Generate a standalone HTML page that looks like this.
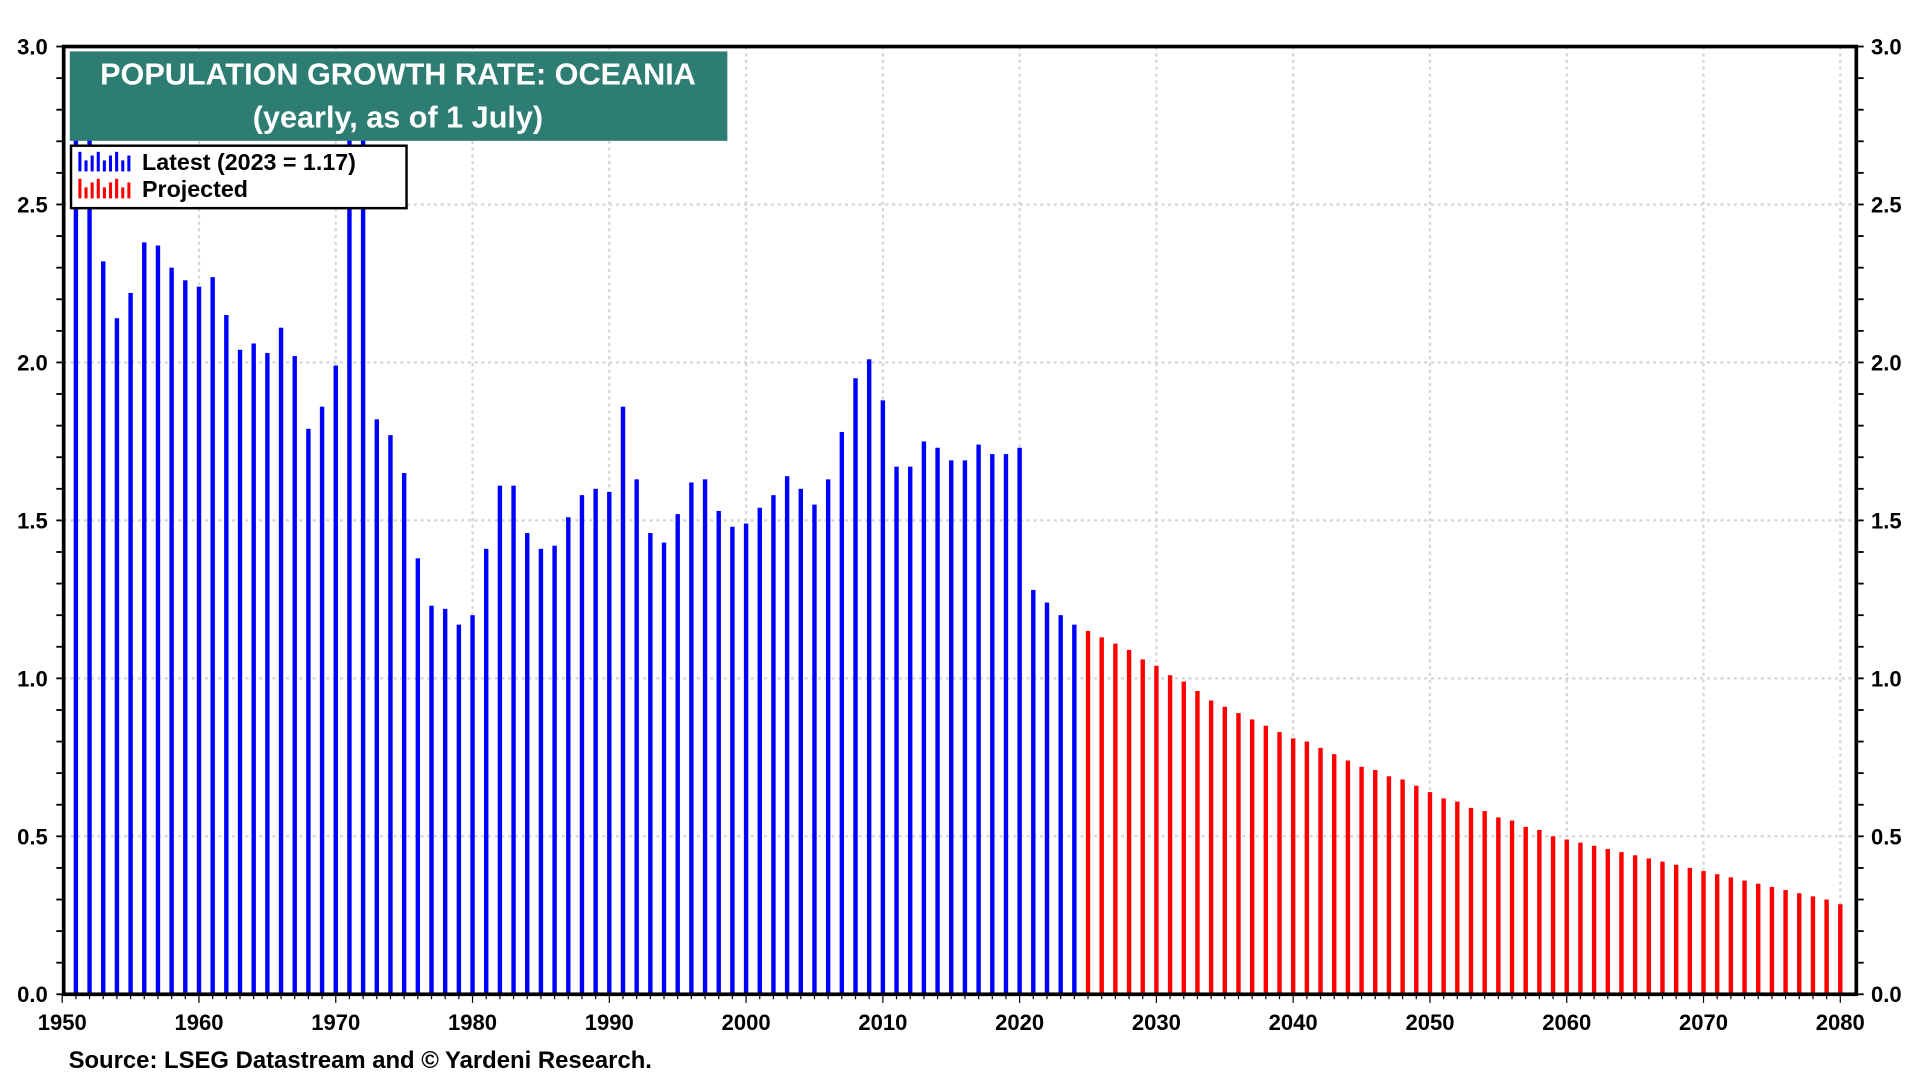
<!DOCTYPE html>
<html><head><meta charset="utf-8"><style>
html,body{margin:0;padding:0;background:#fff;}
svg{display:block;font-family:"Liberation Sans",Arial,sans-serif;}
</style></head><body>
<svg id="chart" width="1920" height="1080" viewBox="0 0 1568 882">
<g id="grid"></g>
<g id="bars"></g>
<g id="axes"></g>
<rect x="57" y="42" width="537" height="73" fill="#2e7d72"/>
<text x="325" y="69" text-anchor="middle" fill="#fff" font-weight="bold" font-size="25">POPULATION GROWTH RATE: OCEANIA</text>
<text x="325" y="104" text-anchor="middle" fill="#fff" font-weight="bold" font-size="25">(yearly, as of 1 July)</text>
<g>
<rect x="58" y="119" width="274" height="51" fill="#fff" stroke="#000" stroke-width="2"/>
<g>
<g fill="#0000ff"><rect x="64" y="124" width="2.5" height="16"/><rect x="69" y="131" width="2.5" height="9"/><rect x="74" y="127" width="2.5" height="13"/><rect x="79" y="124" width="2.5" height="16"/><rect x="84" y="131" width="2.5" height="9"/><rect x="89" y="127" width="2.5" height="13"/><rect x="94" y="124" width="2.5" height="16"/><rect x="99" y="131" width="2.5" height="9"/><rect x="104" y="127" width="2.5" height="13"/></g>
<text x="116" y="139" font-size="19" font-weight="bold">Latest (2023 = 1.17)</text></g>
<g>
<g fill="#ff0000"><rect x="64" y="146" width="2.5" height="16"/><rect x="69" y="153" width="2.5" height="9"/><rect x="74" y="149" width="2.5" height="13"/><rect x="79" y="146" width="2.5" height="16"/><rect x="84" y="153" width="2.5" height="9"/><rect x="89" y="149" width="2.5" height="13"/><rect x="94" y="146" width="2.5" height="16"/><rect x="99" y="153" width="2.5" height="9"/><rect x="104" y="149" width="2.5" height="13"/></g>
<text x="116" y="161" font-size="19" font-weight="bold">Projected</text></g>
</g>
<text x="56" y="872" font-size="19.5" font-weight="bold">Source: LSEG Datastream and © Yardeni Research.</text>
</svg>
<script>
const actualYears = [];
for (let y = 1951; y <= 2024; y++) actualYears.push(y);
const actualValues = [2.85,2.8,2.32,2.14,2.22,2.38,2.37,2.30,2.26,2.24,2.27,2.15,2.04,2.06,2.03,2.11,2.02,1.79,1.86,1.99,2.9,2.9,1.82,1.77,1.65,1.38,1.23,1.22,1.17,1.20,1.41,1.61,1.61,1.46,1.41,1.42,1.51,1.58,1.60,1.59,1.86,1.63,1.46,1.43,1.52,1.62,1.63,1.53,1.48,1.49,1.54,1.58,1.64,1.60,1.55,1.63,1.78,1.95,2.01,1.88,1.67,1.67,1.75,1.73,1.69,1.69,1.74,1.71,1.71,1.73,1.28,1.24,1.20,1.17];
const projYears = [];
for (let y = 2025; y <= 2080; y++) projYears.push(y);
const projValues = [1.15,1.13,1.11,1.09,1.06,1.04,1.01,0.99,0.96,0.93,0.91,0.89,0.87,0.85,0.83,0.81,0.80,0.78,0.76,0.74,0.72,0.71,0.69,0.68,0.66,0.64,0.62,0.61,0.59,0.58,0.56,0.55,0.53,0.52,0.50,0.49,0.48,0.47,0.46,0.45,0.44,0.43,0.42,0.41,0.40,0.39,0.38,0.37,0.36,0.35,0.34,0.33,0.32,0.31,0.30,0.285];
const yTicks = [0,0.5,1,1.5,2,2.5,3];
const yTickLabels = ["0.0","0.5","1.0","1.5","2.0","2.5","3.0"];
const xTicks = [1950,1960,1970,1980,1990,2000,2010,2020,2030,2040,2050,2060,2070,2080];

const L=52,R=1516,T=38,B=812;
const xs = yr => 50.8 + (yr-1950)*11.17;
const ys = v => B - v*258;
const NS="http://www.w3.org/2000/svg";
function mk(tag, attrs, parent){const e=document.createElementNS(NS,tag);for(const k in attrs)e.setAttribute(k,attrs[k]);parent.appendChild(e);return e;}
const grid=document.getElementById('grid'), bars=document.getElementById('bars'), axes=document.getElementById('axes');

yTicks.forEach((v,i)=>{
  if(v>0&&v<3){const g=mk('line',{x1:L,x2:R,y1:ys(v),y2:ys(v),stroke:'#d4d4d4','stroke-width':1.8,'stroke-dasharray':'2.5,3'},grid);
  
  }
  const t1=mk('text',{x:L-13,y:ys(v)+6.5,'text-anchor':'end','font-size':18,'font-weight':'bold'},axes);t1.textContent=yTickLabels[i];
  
  
  const t2=mk('text',{x:R+12,y:ys(v)+6.5,'text-anchor':'start','font-size':18,'font-weight':'bold'},axes);t2.textContent=yTickLabels[i];
  
  
});
for(let k=0;k<=30;k++){const v=k/10;
  mk('line',{x1:L-6,x2:L,y1:ys(v),y2:ys(v),stroke:'#000','stroke-width':1.5},axes);
  mk('line',{x1:R,x2:R+6,y1:ys(v),y2:ys(v),stroke:'#000','stroke-width':1.5},axes);}
xTicks.forEach(yr=>{
  if(yr>1950){const g=mk('line',{x1:xs(yr),x2:xs(yr),y1:T,y2:B,stroke:'#d4d4d4','stroke-width':1.8,'stroke-dasharray':'2.5,3'},grid);
  
  }
  const t=mk('text',{x:xs(yr),y:B+29,'text-anchor':'middle','font-size':18,'font-weight':'bold'},axes);t.textContent=yr;
  
  
});
for(let yr=1950;yr<=2080;yr++){const big=yr%10===0;
  mk('line',{x1:xs(yr),x2:xs(yr),y1:B,y2:B+(big?7:4),stroke:'#000','stroke-width':1},axes);}
actualYears.forEach((yr,i)=>{const v=actualValues[i];
  const r=mk('rect',{x:xs(yr)-1.8,y:ys(v),width:3.6,height:B-ys(v),fill:'#0000ff'},bars);
  
  });
projYears.forEach((yr,i)=>{const v=projValues[i];
  const r=mk('rect',{x:xs(yr)-1.8,y:ys(v),width:3.6,height:B-ys(v),fill:'#ff0000'},bars);
  
  });
const fr=mk('rect',{x:L,y:T,width:R-L,height:B-T,fill:'none',stroke:'#000','stroke-width':3},axes);


</script>
</body></html>
